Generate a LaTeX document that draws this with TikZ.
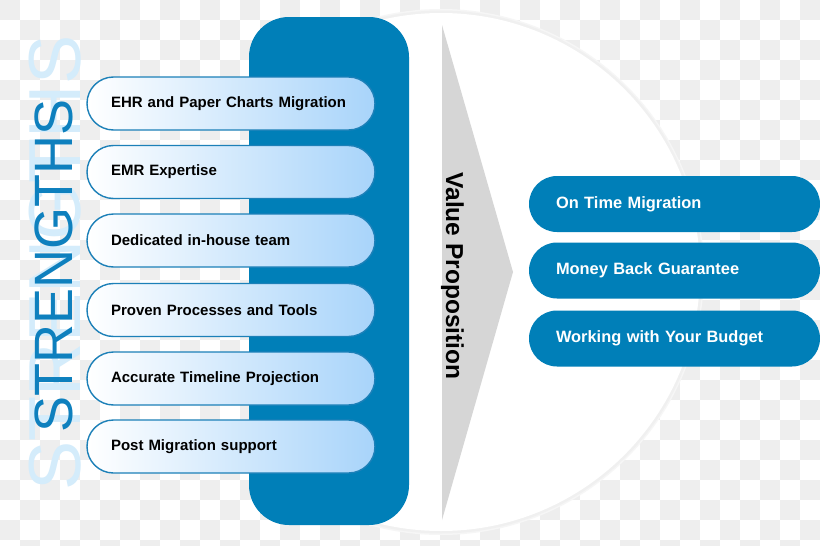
\documentclass[tikz,border=0pt]{standalone}
\usepackage{fontspec}
\setmainfont{Liberation Sans}
\definecolor{mainblue}{RGB}{0,127,184}
\definecolor{checkgray}{RGB}{238,238,238}
\definecolor{pillblue}{RGB}{168,212,250}
\definecolor{pilledge}{RGB}{28,128,184}
\definecolor{strongblue}{RGB}{14,128,190}
\definecolor{paleblue}{RGB}{212,236,251}
\definecolor{arrowgray}{RGB}{214,214,214}
\definecolor{rimgray}{RGB}{240,240,240}
\begin{document}
\begin{tikzpicture}[x=1pt,y=-1pt,
  leftpill/.style={draw=pilledge, line width=1.4pt, left color=white, right color=pillblue,
    rounded corners=26.5pt, minimum width=288pt, minimum height=53pt, text width=240pt,
    inner xsep=24pt, inner ysep=0pt, align=left, text=black,
    font=\fontsize{15}{18}\selectfont\bfseries},
  rightpill/.style={fill=mainblue, rounded corners=28pt, minimum width=291pt,
    minimum height=56pt, text width=237pt, inner xsep=27pt, inner ysep=0pt,
    align=left, text=white, font=\fontsize{16.4}{20}\selectfont\bfseries},
  bluebar/.style={fill=mainblue, rounded corners=40pt, minimum width=160pt,
    minimum height=508pt, inner sep=0pt}]
\useasboundingbox (0,0) rectangle (820,546);
% transparency checkerboard
\fill[white] (0,0) rectangle (820,546);
\foreach \j in {0,...,27}{
  \pgfmathsetmacro{\off}{mod(\j,2)*20}
  \foreach \i in {0,2,...,40}{
    \fill[checkgray] ({\i*20+\off},{\j*20}) rectangle ++(20,20);
  }
}
% white disc with soft rim
\begin{scope}
  \clip (300,0) rectangle (820,546);
  \fill[rimgray!60] (441,272) circle[radius=263pt];
  \fill[rimgray] (441,272) circle[radius=261.5pt];
  \fill[white] (441,272) circle[radius=259pt];
\end{scope}
% gray arrow
\fill[arrowgray] (442,25) -- (513,272) -- (442,520) -- cycle;
% blue bar
\node[bluebar] (bar) at (329,271) {};
% STRENGTHS
\node[rotate=90, anchor=base, inner sep=0pt, text=paleblue,
  font=\fontsize{73.7}{80}\selectfont] (strbg) at (80,263) {STRENGTHS};
\node[rotate=90, anchor=base, inner sep=0pt, text=strongblue,
  font=\fontsize{54}{60}\selectfont] (str) at (72,266) {STRENGTHS};
% left pills
\node[leftpill] (l1) at (231,103.5) {EHR and Paper Charts Migration};
\node[leftpill] (l2) at (231,172) {EMR Expertise};
\node[leftpill] (l3) at (231,240.5) {Dedicated in-house team};
\node[leftpill] (l4) at (231,310) {Proven Processes and Tools};
\node[leftpill] (l5) at (231,378.5) {Accurate Timeline Projection};
\node[leftpill] (l6) at (231,446.5) {Post Migration support};
% value proposition
\node[rotate=-90, anchor=base, inner sep=0pt, text=black,
  font=\fontsize{24.5}{28}\selectfont\bfseries] (vp) at (446,276) {Value Proposition};
% right pills
\node[rightpill] (r1) at (674.5,204) {On Time Migration};
\node[rightpill] (r2) at (674.5,270.5) {Money Back Guarantee};
\node[rightpill] (r3) at (674.5,338.5) {Working with Your Budget};
\end{tikzpicture}
\end{document}
